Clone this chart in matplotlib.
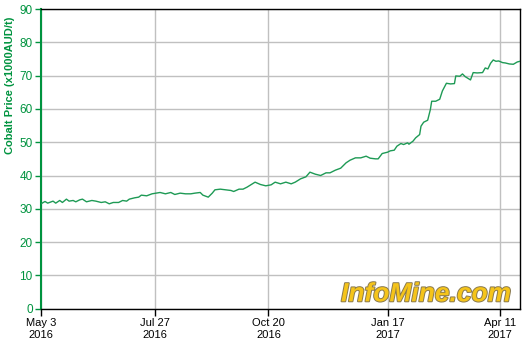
import datetime as dt
import matplotlib
matplotlib.use("Agg")
import matplotlib.pyplot as plt
import matplotlib.patheffects as pe

plt.rcParams['font.family'] = ['Liberation Sans', 'DejaVu Sans']

start_date = dt.date(2016, 5, 3)
end_date = dt.date(2017, 4, 26)

day_offsets = [0, 3, 5, 9, 11, 14, 16, 19, 21, 24, 26, 29, 31, 34, 38, 41, 45, 48, 51, 54,
               58, 61, 64, 66, 70, 73, 75, 79, 83, 86, 89, 93, 97, 100, 104, 108, 112, 115, 119, 121,
               125, 128, 130, 134, 138, 142, 144, 148, 151, 154, 158, 160, 164, 168, 172, 175, 179, 183, 187, 190,
               194, 198, 201, 205, 209, 213, 216, 220, 224, 228, 231, 235, 239, 243, 246, 250, 252, 255, 259, 261,
               264, 266, 269, 271, 274, 275, 278, 280, 283, 284, 286, 289, 291, 292, 295, 298, 300, 303, 306, 309,
               310, 313, 315, 317, 321, 323, 326, 330, 332, 334, 336, 338, 340, 342, 345, 347, 350, 353, 356, 358]
prices = [31.5, 32.2, 31.7, 32.3, 31.7, 32.5, 31.9, 32.9, 32.3, 32.5, 32.1, 32.7, 32.9, 32.1, 32.5, 32.3, 31.9, 32.1, 31.5, 31.9,
          31.9, 32.5, 32.3, 32.9, 33.3, 33.5, 34.1, 33.9, 34.5, 34.7, 34.9, 34.5, 34.9, 34.3, 34.7, 34.5, 34.5, 34.7, 34.9, 34.1,
          33.5, 34.7, 35.7, 35.9, 35.7, 35.5, 35.2, 35.9, 35.9, 36.5, 37.5, 38.0, 37.3, 36.9, 37.2, 38.0, 37.5, 38.0, 37.5, 38.0,
          39.0, 39.6, 41.0, 40.4, 40.0, 40.8, 40.8, 41.6, 42.2, 43.8, 44.6, 45.3, 45.3, 45.8, 45.2, 45.0, 45.0, 46.6, 47.0, 47.4,
          47.6, 48.8, 49.6, 49.3, 49.8, 49.4, 50.3, 51.3, 52.3, 54.8, 56.0, 56.6, 59.8, 62.3, 62.3, 62.9, 65.4, 67.7, 67.5, 67.6,
          69.9, 69.8, 70.5, 69.7, 68.7, 70.9, 70.8, 70.9, 72.3, 72.0, 73.7, 74.7, 74.3, 74.4, 73.9, 73.8, 73.5, 73.4, 74.1, 74.3]

tick_dates = [dt.date(2016, 5, 3), dt.date(2016, 7, 27), dt.date(2016, 10, 20),
              dt.date(2017, 1, 17), dt.date(2017, 4, 11)]
tick_labels = ["May 3\n2016", "Jul 27\n2016", "Oct 20\n2016", "Jan 17\n2017", "Apr 11\n2017"]
y_ticks = [0, 10, 20, 30, 40, 50, 60, 70, 80, 90]
y_label = "Cobalt Price (x1000AUD/t)"
watermark = "InfoMine.com"

green = "#00933F"
line_green = "#1E9A55"

dates = [start_date + dt.timedelta(days=d) for d in day_offsets]

fig = plt.figure(figsize=(5.25, 3.42), dpi=100)
ax = fig.add_axes([41 / 525, 1 - 308.7 / 342, 479 / 525, 299.7 / 342])

ax.plot(dates, prices, color=line_green, linewidth=1.0, zorder=3)

ax.set_xlim(start_date, end_date)
ax.set_ylim(0, 90)
ax.set_yticks(y_ticks)
ax.set_xticks(tick_dates)
ax.set_xticklabels(tick_labels, fontsize=8, color="black", linespacing=1.25)
ax.tick_params(axis='y', colors=green, labelsize=8.5, length=4, width=1, direction='out', pad=2)
ax.tick_params(axis='x', colors="black", labelcolor="black", length=5, width=1, direction='out', pad=2)

ax.grid(True, color="#C0C0C0", linewidth=1.0, zorder=0)
ax.set_axisbelow(True)

for s in ['top', 'right', 'bottom']:
    ax.spines[s].set_color("black")
    ax.spines[s].set_linewidth(1.0)
ax.spines['left'].set_color(green)
ax.spines['left'].set_linewidth(1.5)

ax.set_ylabel(y_label, color=green, fontsize=8, fontweight='bold')
ax.yaxis.set_label_coords(-0.055, 0.745)

ax.text(0.804, 0.048, watermark, transform=ax.transAxes, ha='center', va='center',
        fontsize=19, fontweight='bold', fontstyle='italic', color="#F5C41A", zorder=2,
        path_effects=[pe.Stroke(linewidth=1.4, foreground="#8A7A50"), pe.Normal()])

fig.savefig("out.png", dpi=100, facecolor="white")
